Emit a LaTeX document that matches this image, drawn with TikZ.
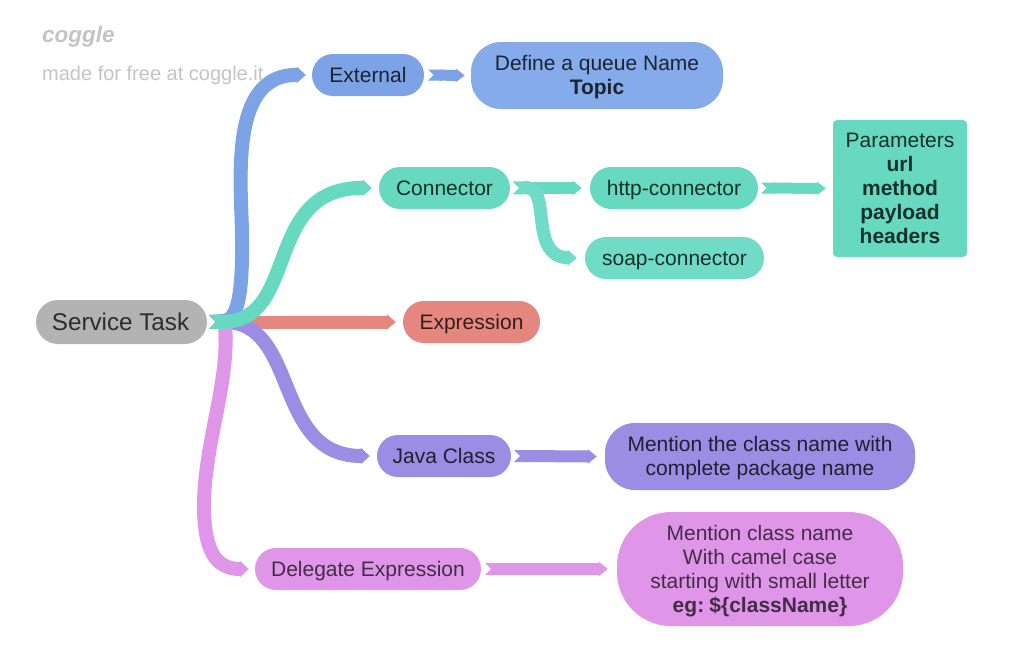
\documentclass[tikz,border=0pt]{standalone}
\usepackage{fontspec}
\setmainfont{Liberation Sans}
\usetikzlibrary{arrows.meta}
\definecolor{cblue}{HTML}{7BA3E6}
\definecolor{cblueb}{HTML}{85ABEA}
\definecolor{cteal}{HTML}{67D9C1}
\definecolor{ctealb}{HTML}{70DBC6}
\definecolor{cred}{HTML}{E5877F}
\definecolor{cpurple}{HTML}{9B8DE3}
\definecolor{cpink}{HTML}{E096E8}
\definecolor{cgrey}{HTML}{B3B3B3}
\definecolor{clogo}{HTML}{C4C4C4}
\tikzset{
  pill/.style={inner sep=0pt,align=center,font=\fontsize{21}{24}\selectfont,text height=16pt,text depth=1pt,rounded corners=21pt,minimum height=42pt},
  mainnode/.style={pill,font=\fontsize{24.2}{28}\selectfont,text height=18pt,text depth=1pt,text=cgrey!25!black,fill=cgrey,rounded corners=22pt,minimum width=171pt,minimum height=44pt},
  textblock/.style={inner sep=0pt,align=center,font=\fontsize{21}{24}\selectfont,text depth=0pt},
  ribbon/.style={line width=#1,{Triangle Cap[reversed]}-{Triangle[length=9pt,width=2pt 1]}},
  ribbon/.default=13pt,
  mark text/.style={text=clogo,inner sep=0pt,anchor=west}
}
\colorlet{tblue}{cblue!22!black}
\colorlet{tteal}{cteal!22!black}
\colorlet{tred}{cred!22!black}
\colorlet{tpurple}{cpurple!22!black}
\colorlet{tpink}{cpink!30!black}
\begin{document}
\begin{tikzpicture}[x=1pt,y=-1pt]
\useasboundingbox (0,0) rectangle (1010,672);
\fill[white] (0,0) rectangle (1010,672);
\node[mainnode] (root) at (121.5,322) {\kern-2pt Service Task};
\node[pill,fill=cblue,text=tblue,minimum width=112pt] (ext) at (368,75) {External};
\node[textblock,fill=cblueb,rounded corners=30pt,minimum width=252pt,minimum height=67pt,text=tblue,text depth=2pt] (queue) at (597,75.5) {Define a queue Name\\\textbf{Topic}};
\node[pill,fill=cteal,text=tteal,minimum width=131pt] (conn) at (444.5,188) {Connector};
\node[pill,fill=cteal,text=tteal,minimum width=168pt] (http) at (674,188) {http-connector};
\node[pill,fill=ctealb,text=tteal,minimum width=179pt] (soap) at (674.5,258) {soap-connector};
\node[textblock,fill=cteal,rounded corners=4pt,minimum width=134pt,minimum height=137pt,text=tteal] (params) at (900,188.5) {Parameters\\\textbf{url}\\\textbf{method}\\\textbf{payload}\\\textbf{headers}};
\node[pill,fill=cred,text=tred,minimum width=137pt] (expr) at (471.5,322) {Expression};
\node[pill,fill=cpurple,text=tpurple,minimum width=134pt] (java) at (444,456) {Java Class};
\node[textblock,fill=cpurple,rounded corners=30pt,minimum width=310pt,minimum height=67pt,text=tpurple,text depth=2pt] (cls) at (760,456.5) {Mention the class name with\\complete package name};
\node[pill,fill=cpink,text=tpink,minimum width=226pt] (deleg) at (368,569) {Delegate Expression};
\node[textblock,fill=cpink,rounded corners=54pt,minimum width=286pt,minimum height=114pt,text=tpink] (camel) at (760,569) {Mention class name\\With camel case\\starting with small letter\\\textbf{eg:\hspace{0.25em}\$\{className\}}};

\coordinate (start) at ([xshift=2pt]root.east);
\draw[cblue,ribbon=14pt] (start) .. controls (238,320) and (243,295) .. (242,230) .. controls (240,170) and (232,74) .. ([xshift=-6pt]ext.west);
\draw[cred,ribbon=13pt] (start) -- ([xshift=-7pt]expr.west);
\draw[cpurple,ribbon=14pt] (start) .. controls (300,321) and (272,456) .. ([xshift=-7pt]java.west);
\draw[cpink,ribbon=14pt] ([xshift=18pt]root.east) .. controls (227,390) and (203,450) .. (204,510) .. controls (205,550) and (215,569) .. ([xshift=-6pt]deleg.west);
\draw[cteal,ribbon=14pt] (start) .. controls (300,321) and (262,187) .. ([xshift=-7pt]conn.west);
\draw[cblue,ribbon=11pt] ([xshift=4pt]ext.east) -- ([xshift=-6pt]queue.west);
\draw[cteal,ribbon=12pt] ([xshift=3pt]conn.east) -- ([xshift=-8pt]http.west);
\draw[ctealb,ribbon=13pt] ([xshift=3pt]conn.east) .. controls (552,187) and (528,257) .. ([xshift=-8pt]soap.west);
\draw[cteal,ribbon=11pt] ([xshift=3pt]http.east) -- ([xshift=-7pt]params.west);
\draw[cpurple,ribbon=12pt] ([xshift=3pt]java.east) -- ([xshift=-8pt]cls.west);
\draw[cpink,ribbon=12pt] ([xshift=4pt]deleg.east) -- ([xshift=-9pt]camel.west);

\node[mark text,font=\fontsize{22.5}{30}\selectfont\bfseries\itshape] (logo) at (42,37) {coggle};
\node[mark text,font=\fontsize{20}{24}\selectfont] (made) at (42,75) {made for free at coggle.it};
\end{tikzpicture}
\end{document}
